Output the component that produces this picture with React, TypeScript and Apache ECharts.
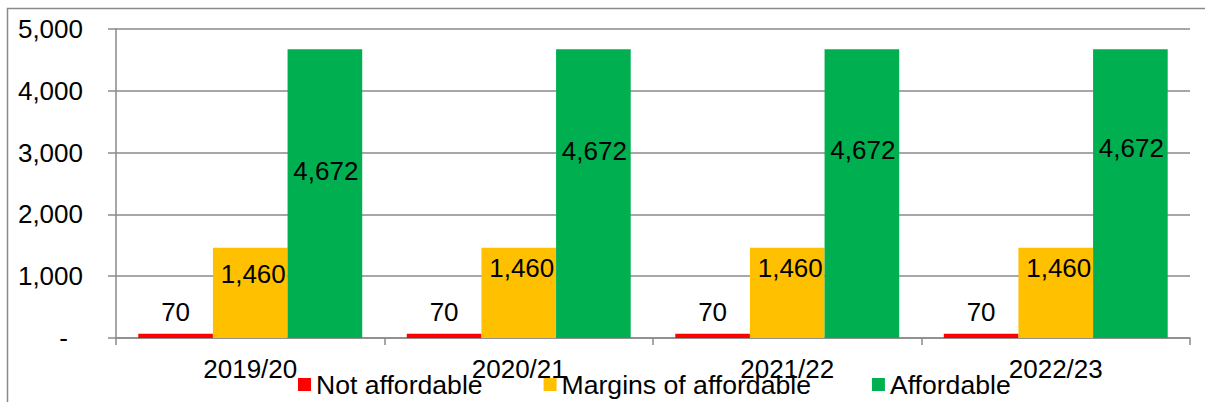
import React, { useEffect, useRef } from "react";
import * as echarts from "echarts";

const categories = ["2019/20", "2020/21", "2021/22", "2022/23"];
const notAffordable = [70, 70, 70, 70];
const margins = [1460, 1460, 1460, 1460];
const affordable = [4672, 4672, 4672, 4672];
const yTicks = [0, 1000, 2000, 3000, 4000, 5000];

const FONT = "'Liberation Sans', Arial, sans-serif";
const GRAY = "#8a8a8a";

// label style offsets (presentation only)
const yellowOffsets = [-19, -25, -25, -25];
const greenOffsets = [-23, -43, -44, -46];

export default function App() {
  const ref = useRef<HTMLDivElement>(null);

  useEffect(() => {
    document.body.style.margin = "0";
    if (!ref.current) return;
    const chart = echarts.init(ref.current, null, { renderer: "svg" });
    const fmt = (v: number) => v.toLocaleString("en-US");
    const labelBase = {
      show: true,
      color: "#000",
      fontSize: 26,
      fontFamily: FONT,
      formatter: (p: any) => fmt(p.value),
    };
    chart.setOption({
      animation: false,
      backgroundColor: "#fff",
      textStyle: { fontFamily: FONT },
      graphic: [
        {
          type: "rect",
          shape: { x: 7.5, y: 8.5, width: 1210, height: 400 },
          style: { fill: "none", stroke: GRAY, lineWidth: 1.5 },
          silent: true,
          z: -1,
        },
      ],
      grid: { left: 116, right: 15, top: 29, bottom: 64 },
      legend: {
        left: 298,
        top: 371,
        padding: 0,
        itemWidth: 13,
        itemHeight: 13,
        itemGap: 61,
        icon: "rect",
        textStyle: { fontSize: 26.6, color: "#000", fontFamily: FONT },
        data: ["Not affordable", "Margins of affordable", "Affordable"],
      },
      xAxis: {
        type: "category",
        data: categories,
        axisLine: { show: true, lineStyle: { color: GRAY, width: 1.5 } },
        axisTick: { show: true, length: 7, lineStyle: { color: GRAY, width: 1.5 } },
        axisLabel: { fontSize: 26, color: "#000", fontFamily: FONT, margin: 18 },
      },
      yAxis: {
        type: "value",
        min: yTicks[0],
        max: yTicks[yTicks.length - 1],
        interval: 1000,
        axisLine: { show: true, lineStyle: { color: GRAY, width: 1.5 } },
        axisTick: { show: true, length: 8, lineStyle: { color: GRAY, width: 1.5 } },
        splitLine: { show: true, lineStyle: { color: GRAY, width: 1.5 } },
        axisLabel: {
          fontSize: 26,
          color: "#000",
          fontFamily: FONT,
          margin: 33,
          formatter: (v: number) => (v === 0 ? "{z|-}" : fmt(v)),
          rich: { z: { fontSize: 26, color: "#000", fontFamily: FONT, padding: [0, 15, 0, 0] } },
        },
      },
      series: [
        {
          name: "Not affordable",
          type: "bar",
          data: notAffordable,
          itemStyle: { color: "#FF0000" },
          barGap: "0%",
          barCategoryGap: "16.6%",
          label: { ...labelBase, position: "top", distance: 9 },
        },
        {
          name: "Margins of affordable",
          type: "bar",
          data: margins.map((v, i) => ({
            value: v,
            label: { offset: [3, yellowOffsets[i]] },
          })),
          itemStyle: { color: "#FFC000" },
          barGap: "0%",
          barCategoryGap: "16.6%",
          label: { ...labelBase, position: "inside" },
        },
        {
          name: "Affordable",
          type: "bar",
          data: affordable.map((v, i) => ({
            value: v,
            label: { offset: [1, greenOffsets[i]] },
          })),
          itemStyle: { color: "#00B050" },
          barGap: "0%",
          barCategoryGap: "16.6%",
          label: { ...labelBase, position: "inside" },
        },
      ],
    });
    return () => chart.dispose();
  }, []);

  return <div ref={ref} style={{ width: 1205, height: 402 }} />;
}
